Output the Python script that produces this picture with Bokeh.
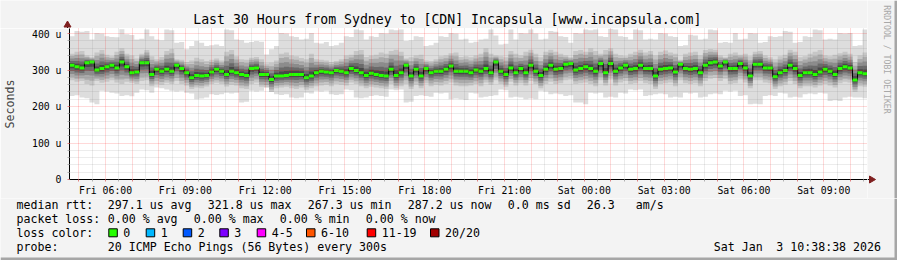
from datetime import datetime, timedelta
from math import pi
import numpy as np
from bokeh.plotting import figure
from bokeh.layouts import column, row
from bokeh.models import Range1d, FixedTicker
from bokeh.core.properties import value
from bokeh.embed import file_html
from bokeh.resources import INLINE

# ---------------- data ----------------
start = datetime(2026, 1, 2, 4, 38, 38)   # Fri 04:38:38
span_hours = 30

median_us = [
    313, 309, 306, 320, 322, 300, 304, 309, 313, 306, 322, 309, 293, 295, 320, 320, 288, 302, 297, 302,
    297, 313, 304, 293, 279, 285, 284, 285, 295, 302, 297, 288, 297, 293, 288, 285, 304, 306, 288, 288,
    274, 284, 284, 285, 288, 288, 288, 279, 284, 293, 297, 295, 293, 299, 297, 293, 304, 299, 293, 285,
    291, 288, 285, 284, 302, 285, 293, 313, 284, 302, 284, 304, 293, 297, 297, 302, 311, 297, 297, 297,
    293, 300, 297, 304, 293, 322, 297, 288, 306, 293, 304, 293, 313, 297, 285, 302, 313, 302, 304, 316,
    318, 300, 304, 309, 304, 297, 318, 293, 318, 297, 306, 313, 302, 304, 313, 304, 304, 284, 302, 304,
    306, 295, 316, 304, 302, 304, 293, 313, 320, 322, 311, 322, 304, 304, 318, 306, 284, 316, 316, 306,
    306, 282, 293, 299, 313, 304, 285, 293, 293, 288, 295, 302, 297, 288, 304, 309, 306, 273, 293, 290]

smoke_max = [
    393, 407, 405, 407, 384, 402, 400, 393, 391, 390, 412, 398, 396, 384, 386, 411, 393, 384, 382, 411,
    409, 375, 377, 357, 366, 380, 375, 366, 368, 370, 366, 411, 409, 384, 382, 375, 377, 380, 378, 343,
    357, 366, 402, 400, 393, 391, 384, 386, 402, 375, 373, 377, 366, 368, 375, 393, 391, 411, 409, 384,
    393, 391, 402, 400, 411, 409, 411, 380, 382, 393, 391, 366, 368, 375, 393, 391, 402, 400, 384, 386,
    375, 378, 384, 386, 411, 395, 370, 372, 411, 384, 402, 400, 411, 400, 384, 386, 407, 405, 393, 391,
    375, 402, 400, 411, 409, 411, 393, 391, 413, 411, 393, 391, 384, 411, 409, 384, 386, 384, 402, 400,
    393, 391, 366, 368, 397, 395, 384, 386, 411, 409, 375, 377, 375, 402, 384, 386, 402, 400, 375, 377,
    393, 391, 393, 407, 405, 375, 377, 393, 391, 411, 409, 384, 386, 384, 402, 400, 402, 366, 368, 411]

smoke_hi = [
    345, 350, 352, 340, 335, 348, 355, 342, 338, 350, 360, 345, 340, 332, 345, 355, 338, 330, 336, 352,
    358, 330, 328, 322, 326, 334, 330, 325, 328, 332, 326, 350, 355, 338, 330, 328, 334, 336, 330, 318,
    320, 326, 345, 348, 340, 338, 333, 330, 345, 330, 328, 326, 322, 325, 330, 340, 342, 352, 355, 336,
    340, 342, 348, 345, 352, 356, 350, 332, 335, 340, 342, 326, 325, 330, 338, 340, 346, 348, 336, 338,
    335, 340, 345, 360, 345, 340, 338, 335, 352, 345, 340, 350, 356, 345, 335, 350, 356, 350, 345, 340,
    335, 352, 355, 350, 360, 352, 345, 355, 360, 345, 340, 338, 345, 350, 356, 348, 352, 340, 350, 354,
    348, 345, 328, 345, 348, 350, 340, 355, 358, 356, 340, 335, 345, 348, 342, 345, 338, 350, 352, 340,
    335, 330, 338, 342, 356, 350, 335, 338, 345, 350, 355, 340, 338, 342, 346, 350, 345, 322, 340, 348]

smoke_lo = [
    272, 268, 270, 262, 258, 270, 265, 268, 272, 266, 262, 268, 265, 262, 270, 272, 256, 262, 260, 265,
    262, 270, 262, 258, 248, 252, 250, 255, 262, 265, 262, 255, 260, 258, 250, 248, 262, 266, 254, 252,
    240, 250, 252, 254, 250, 248, 252, 246, 250, 256, 258, 260, 256, 262, 260, 258, 266, 262, 256, 250,
    254, 252, 250, 248, 262, 250, 256, 262, 248, 260, 250, 264, 256, 260, 258, 262, 266, 258, 256, 256,
    258, 262, 256, 266, 260, 272, 262, 254, 268, 258, 264, 258, 270, 262, 250, 262, 268, 262, 264, 272,
    274, 262, 264, 266, 262, 256, 272, 258, 274, 258, 266, 270, 262, 264, 270, 264, 262, 248, 262, 264,
    266, 256, 272, 264, 262, 264, 256, 270, 276, 278, 270, 276, 262, 264, 274, 266, 250, 272, 272, 266,
    264, 248, 256, 260, 270, 262, 250, 256, 256, 252, 258, 262, 258, 252, 264, 268, 266, 240, 256, 254]

smoke_min = [
    229, 231, 225, 223, 211, 206, 243, 241, 238, 236, 229, 231, 228, 238, 247, 245, 238, 252, 250, 247,
    243, 241, 243, 238, 236, 220, 222, 225, 234, 232, 234, 238, 236, 238, 211, 213, 243, 241, 243, 255,
    258, 234, 232, 234, 225, 223, 225, 238, 236, 243, 241, 243, 234, 232, 234, 247, 245, 225, 223, 225,
    229, 231, 229, 227, 247, 245, 247, 211, 213, 229, 231, 229, 227, 238, 236, 238, 220, 222, 220, 218,
    238, 236, 225, 227, 229, 231, 247, 245, 225, 227, 225, 220, 222, 220, 243, 241, 234, 236, 234, 229,
    231, 211, 211, 206, 238, 236, 238, 225, 227, 225, 238, 236, 247, 245, 247, 229, 231, 234, 236, 234,
    225, 227, 225, 238, 236, 238, 225, 227, 234, 236, 234, 243, 241, 243, 229, 231, 206, 208, 206, 229,
    231, 229, 238, 236, 225, 227, 225, 234, 236, 234, 238, 236, 215, 217, 215, 225, 227, 225, 225, 223]

x_tick_labels = ["Fri 06:00", "Fri 09:00", "Fri 12:00", "Fri 15:00", "Fri 18:00",
                 "Fri 21:00", "Sat 00:00", "Sat 03:00", "Sat 06:00", "Sat 09:00"]
y_tick_values = [0, 100, 200, 300, 400]
y_tick_labels = ["0", "100 u", "200 u", "300 u", "400 u"]

title_text = "Last 30 Hours from Sydney to [CDN] Incapsula [www.incapsula.com]"
rtt_items = ["median rtt:", "297.1 us avg", "321.8 us max", "267.3 us min", "287.2 us now",
             "0.0 ms sd", "26.3", "am/s"]
loss_items = ["packet loss:", "0.00 % avg", "0.00 % max", "0.00 % min", "0.00 % now"]
loss_labels = ["0", "1", "2", "3", "4-5", "6-10", "11-19", "20/20"]
loss_colors = ["#26ff00", "#00b8ff", "#0059ff", "#7e00ff", "#ff00ff", "#ff5500", "#ff0000", "#a10000"]
probe_items = ["probe:", "20 ICMP Echo Pings (56 Bytes) every 300s"]
date_items = ["Sat Jan", "3 10:38:38 2026"]
credit_text = "RRDTOOL / TOBI OETIKER"

# ---------------- layout constants (canvas pixels) ----------------
W, H = 897, 260
FL, FR, FT, FB = 67, 867, 28, 179          # plot area
MAIN_BOTTOM = 198                           # main figure ends here
X_END = span_hours * 3600
Y_END = 414.0
FONT = "DejaVu Sans Mono"
BG = "#f3f3f3"
SHADE = "#a6a6a6"
ARROW = "#7f1f1f"


def blank(w, h, xr, yr):
    f = figure(width=w, height=h, output_backend="svg", toolbar_location=None,
               x_range=Range1d(*xr), y_range=Range1d(*yr),
               x_axis_location=None, y_axis_location=None, title_location=None,
               min_border=0, min_border_left=0, min_border_right=0,
               min_border_top=0, min_border_bottom=0)
    f.background_fill_color = BG
    f.border_fill_color = BG
    f.outline_line_color = None
    f.xgrid.visible = False
    f.ygrid.visible = False
    return f


# ---------------- main plot ----------------
n = len(median_us)
step = X_END / n
edges = [i * step for i in range(n + 1)]
centers = [(i + 0.5) * step for i in range(n)]

med = np.array(median_us, float)
hi = np.array(smoke_hi, float)
lo = np.array(smoke_lo, float)
mx = np.array(smoke_max, float)
mn = np.array(smoke_min, float)

p = figure(width=FR, height=MAIN_BOTTOM - FT, output_backend="svg", toolbar_location=None,
           x_range=Range1d(0, X_END), y_range=Range1d(0, Y_END), title_location=None,
           min_border_left=FL, min_border_right=0, min_border_top=0,
           min_border_bottom=MAIN_BOTTOM - FB)
p.background_fill_color = "#ffffff"
p.border_fill_color = BG
p.outline_line_color = None


def ext(a):
    a = list(a)
    return a + [a[-1]]


layers = [(mn, mx, "#dddddd")]
grays = ["#c6c6c6", "#aaaaaa", "#8c8c8c", "#6a6a6a", "#484848"]
fracs = [0.0, 0.2, 0.42, 0.62, 0.8]
for g, f in zip(grays, fracs):
    layers.append((lo + (med - lo) * f, hi - (hi - med) * f, g))
for b, t, c in layers:
    p.varea_step(x=edges, y1=ext(b), y2=ext(t), step_mode="after", fill_color=c)

p.step(x=edges, y=ext(med), mode="after", line_color="#000000", line_width=1)
p.rect(x=centers, y=median_us, width=step, height=3, height_units="screen",
       fill_color=loss_colors[0], line_color=None)

hour_ticks, half_ticks = [], []
t = start.replace(minute=0, second=0) + timedelta(hours=1)
end_t = start + timedelta(hours=span_hours)
while t < end_t:
    hour_ticks.append((t - start).total_seconds())
    if t + timedelta(minutes=30) < end_t:
        half_ticks.append((t + timedelta(minutes=30) - start).total_seconds())
    t += timedelta(hours=1)
labelled = [v for v in hour_ticks if (start + timedelta(seconds=v)).hour % 3 == 0]
overrides = {v: "" for v in hour_ticks}
for v, s in zip(labelled, x_tick_labels):
    overrides[v] = s

p.xaxis.ticker = FixedTicker(ticks=hour_ticks, minor_ticks=half_ticks)
p.xaxis.major_label_overrides = overrides
p.yaxis.ticker = FixedTicker(ticks=y_tick_values,
                             minor_ticks=[v for v in range(0, 420, 20) if v % 100])
p.yaxis.major_label_overrides = dict(zip(y_tick_values, y_tick_labels))

for ax in (p.xaxis[0], p.yaxis[0]):
    ax.axis_line_color = "#000000"
    ax.major_tick_out = 2
    ax.major_tick_in = 0
    ax.minor_tick_out = 2
    ax.minor_tick_in = 0
    ax.major_tick_line_color = "#e08080"
    ax.minor_tick_line_color = "#b0b0b0"
    ax.major_label_text_font = FONT
    ax.major_label_text_font_size = "9.8px"
    ax.major_label_text_color = "#000000"
p.xaxis.major_label_standoff = 3
p.yaxis.major_label_standoff = 6
p.yaxis.axis_label = "Seconds"
p.yaxis.axis_label_text_font = FONT
p.yaxis.axis_label_text_font_size = "11.6px"
p.yaxis.axis_label_text_font_style = "normal"
p.yaxis.axis_label_standoff = 12

for gr in (p.xgrid[0], p.ygrid[0]):
    gr.level = "guide"
    gr.grid_line_color = "#ff0000"
    gr.grid_line_alpha = 0.3
    gr.grid_line_dash = "1 1"
    gr.minor_grid_line_color = "#808080"
    gr.minor_grid_line_alpha = 0.3
    gr.minor_grid_line_dash = "1 1"

# ---------------- header (title + y-axis arrow) ----------------
head = blank(FR, FT, (0, FR), (FT, 0))
head.text(x=[192.7], y=[18.5], text=[title_text], text_font=value(FONT),
          text_font_size=value("13.2px"), text_baseline="middle", text_align="left",
          text_color="#000000")
head.segment(x0=[FL], y0=[25], x1=[FL], y1=[FT], line_color="#000000", line_width=1)
head.patch(x=[FL - 3.5, FL + 3.5, FL], y=[26.5, 26.5, 20.5], fill_color=ARROW, line_color=ARROW)

# ---------------- right strip (credit + x-axis arrow + shading) ----------------
side = blank(W - FR, MAIN_BOTTOM, (FR, W), (MAIN_BOTTOM, 0))
side.segment(x0=[FR], y0=[FB], x1=[FR + 3], y1=[FB], line_color="#000000", line_width=1)
side.patch(x=[FR + 2, FR + 2, FR + 8], y=[FB - 3.5, FB + 3.5, FB], fill_color=ARROW, line_color=ARROW)
side.text(x=[886], y=[59], text=[credit_text], text_font=value(FONT),
          text_font_size=value("8.2px"), text_baseline="middle", text_align="center",
          angle=-pi / 2, text_color="#a8a8a8")
side.quad(left=[W - 3], right=[W], bottom=[MAIN_BOTTOM], top=[0], fill_color=SHADE, line_color=None)

# ---------------- legend block ----------------
leg = blank(W, H - MAIN_BOTTOM, (0, W), (H, MAIN_BOTTOM))
lx, ly, lt = [], [], []
for s, x in zip(rtt_items, [16, 107.3, 207.3, 307.3, 407.3, 507.3, 586.3, 635.3]):
    lx.append(x); ly.append(204); lt.append(s)
for s, x in zip(loss_items, [16, 107.3, 193.3, 279.3, 365.3]):
    lx.append(x); ly.append(218); lt.append(s)
lx.append(16); ly.append(232); lt.append("loss color:")
sq_x = [108.3, 145.7, 182.7, 219.3, 256.7, 306, 366.7, 430]
for s, x in zip(loss_labels, sq_x):
    lx.append(x + 14.5); ly.append(232); lt.append(s)
lx += [16, 107.3, 713.3]; ly += [246, 246, 246]; lt += [probe_items[0], probe_items[1], date_items[0]]
leg.text(x=lx, y=ly, text=lt, text_font=value(FONT), text_font_size=value("11.6px"),
         text_baseline="middle", text_align="left", text_color="#000000")
leg.text(x=[880.5], y=[246], text=[date_items[1]], text_font=value(FONT),
         text_font_size=value("11.6px"), text_baseline="middle", text_align="right",
         text_color="#000000")
leg.rect(x=[x + 4.25 for x in sq_x], y=[232.3] * len(sq_x), width=8.5, height=8,
         fill_color=loss_colors, line_color="#000000", line_width=1)
leg.quad(left=[0], right=[W], bottom=[H], top=[H - 3], fill_color=SHADE, line_color=None)
leg.quad(left=[W - 3], right=[W], bottom=[H], top=[MAIN_BOTTOM], fill_color=SHADE, line_color=None)

left_block = column(row(head, spacing=0), p, spacing=0)
layout = column(row(left_block, side, spacing=0), leg, spacing=0)
open("out.html", "w").write(file_html(layout, INLINE))
